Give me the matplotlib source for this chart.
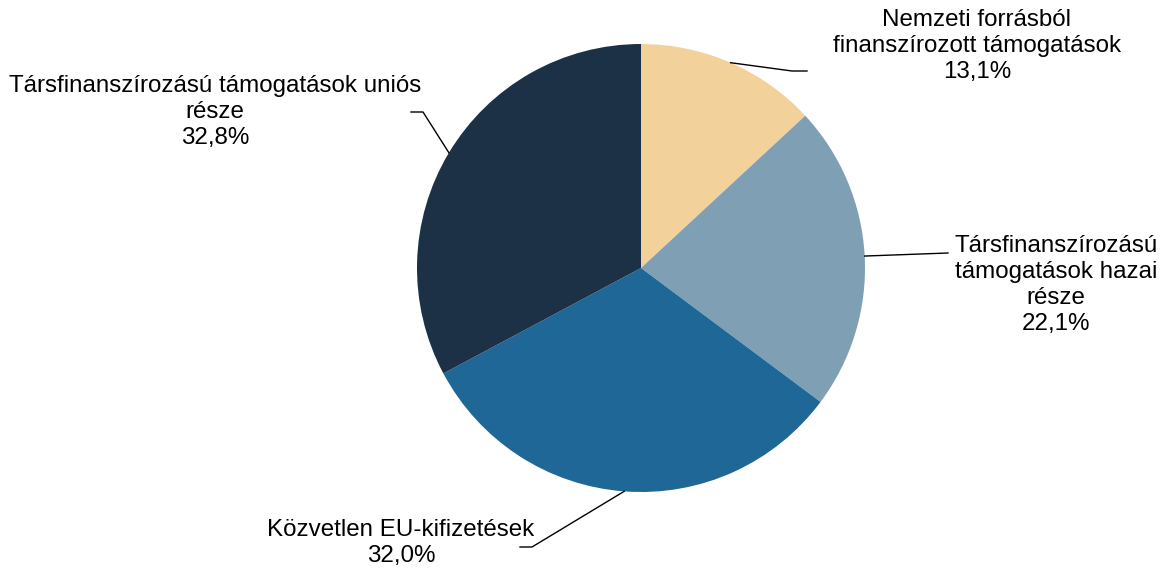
import numpy as np
import matplotlib.pyplot as plt

plt.rcParams['font.family'] = ['Liberation Sans', 'DejaVu Sans']

# Data
labels = [
    "Nemzeti forrásból\nfinanszírozott támogatások",
    "Társfinanszírozású\ntámogatások hazai\nrésze",
    "Közvetlen EU-kifizetések",
    "Társfinanszírozású támogatások uniós\nrésze",
]
shares = [13.1, 22.1, 32.0, 32.8]
colors = ["#F2D29A", "#7FA0B4", "#1F6797", "#1C3146"]

# Layout (pixel coordinates, y measured from top)
W, H = 1160, 570
cx, cy, r = 641, 268, 224
text_pos = [(977, 46), (1056, 285), (401, 543), (215, 112)]
# leader line points after the pie edge: (elbow, end)
leaders = [
    [(792, 71), (807, 71)],
    [(948, 253)],
    [(532, 547), (520, 547)],
    [(423, 112), (411, 112)],
]

fig = plt.figure(figsize=(W / 100, H / 100), dpi=100)
ax = fig.add_axes([0, 0, 1, 1])

ax.pie(shares, colors=colors, startangle=90, counterclock=False,
       center=(cx, H - cy), radius=r, wedgeprops=dict(linewidth=0))

ax.set_xlim(0, W)
ax.set_ylim(0, H)
ax.set_aspect("equal")
ax.axis("off")

total = sum(shares)
cum = np.cumsum([0] + shares[:-1])
for i, (lab, val) in enumerate(zip(labels, shares)):
    mid = np.deg2rad(90 - 360 * (cum[i] + val / 2) / total)
    ex, ey = cx + r * np.cos(mid), H - cy + r * np.sin(mid)
    pts = [(ex, ey)] + [(px, H - py) for px, py in leaders[i]]
    xs, ys = zip(*pts)
    ax.plot(xs, ys, color="black", linewidth=1.0)
    tx, ty = text_pos[i]
    ax.text(tx, H - ty, f"{lab}\n{val:.1f}%".replace(".", ","),
            ha="center", va="center", fontsize=17.4, linespacing=1.24)

fig.savefig("out.png", dpi=100)
